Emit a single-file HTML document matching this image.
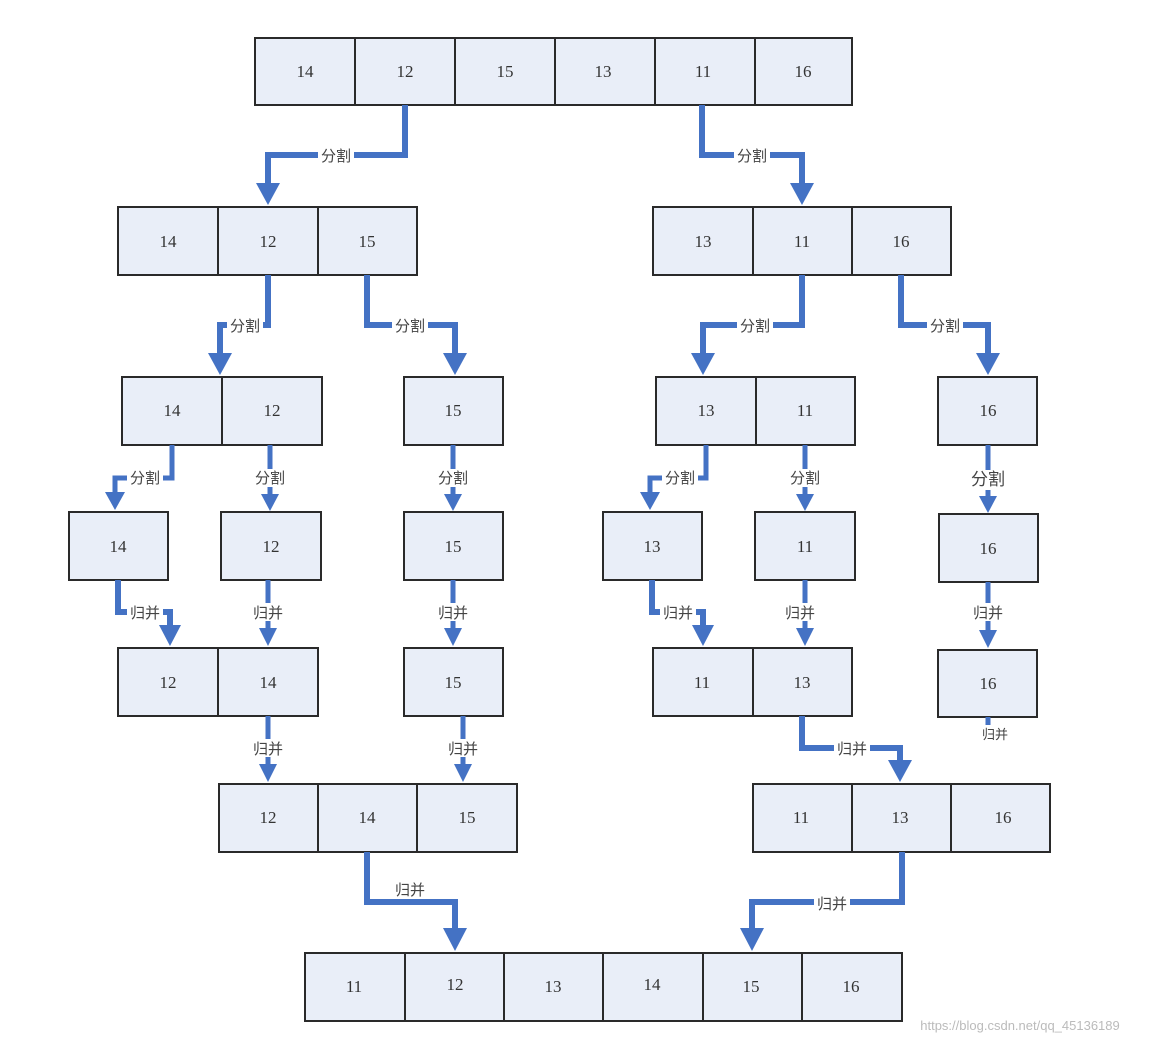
<!DOCTYPE html>
<html><head><meta charset="utf-8"><style>
body{margin:0;background:#fff}
svg{display:block}
.c{fill:#e9eef8;stroke:#2a2a2a;stroke-width:2}
.n{font-family:"Liberation Serif",serif;font-size:17px;fill:#333;text-anchor:middle}
.l{fill:none;stroke:#4472c4;stroke-width:6}
.s{fill:none;stroke:#4472c4;stroke-width:5}
.h{fill:#4472c4}
.t{font-family:"Liberation Sans","Noto Sans CJK SC",sans-serif;font-size:15px;fill:#444;text-anchor:middle}
.b{fill:#fff}
</style></head><body>
<svg width="1149" height="1044" viewBox="0 0 1149 1044">
<!-- row1 -->
<rect class="c" x="255" y="38" width="100" height="67"/><rect class="c" x="355" y="38" width="100" height="67"/><rect class="c" x="455" y="38" width="100" height="67"/><rect class="c" x="555" y="38" width="100" height="67"/><rect class="c" x="655" y="38" width="100" height="67"/><rect class="c" x="755" y="38" width="97" height="67"/>
<text class="n" x="305" y="77">14</text><text class="n" x="405" y="77">12</text><text class="n" x="505" y="77">15</text><text class="n" x="603" y="77">13</text><text class="n" x="703" y="77">11</text><text class="n" x="803" y="77">16</text>
<!-- row2 -->
<rect class="c" x="118" y="207" width="100" height="68"/><rect class="c" x="218" y="207" width="100" height="68"/><rect class="c" x="318" y="207" width="99" height="68"/>
<rect class="c" x="653" y="207" width="100" height="68"/><rect class="c" x="753" y="207" width="99" height="68"/><rect class="c" x="852" y="207" width="99" height="68"/>
<text class="n" x="168" y="247">14</text><text class="n" x="268" y="247">12</text><text class="n" x="367" y="247">15</text>
<text class="n" x="703" y="247">13</text><text class="n" x="802" y="247">11</text><text class="n" x="901" y="247">16</text>
<!-- row3 -->
<rect class="c" x="122" y="377" width="100" height="68"/><rect class="c" x="222" y="377" width="100" height="68"/><rect class="c" x="404" y="377" width="99" height="68"/>
<rect class="c" x="656" y="377" width="100" height="68"/><rect class="c" x="756" y="377" width="99" height="68"/><rect class="c" x="938" y="377" width="99" height="68"/>
<text class="n" x="172" y="416">14</text><text class="n" x="272" y="416">12</text><text class="n" x="453" y="416">15</text>
<text class="n" x="706" y="416">13</text><text class="n" x="805" y="416">11</text><text class="n" x="988" y="416">16</text>
<!-- row4 -->
<rect class="c" x="69" y="512" width="99" height="68"/><rect class="c" x="221" y="512" width="100" height="68"/><rect class="c" x="404" y="512" width="99" height="68"/>
<rect class="c" x="603" y="512" width="99" height="68"/><rect class="c" x="755" y="512" width="100" height="68"/><rect class="c" x="939" y="514" width="99" height="68"/>
<text class="n" x="118" y="552">14</text><text class="n" x="271" y="552">12</text><text class="n" x="453" y="552">15</text>
<text class="n" x="652" y="552">13</text><text class="n" x="805" y="552">11</text><text class="n" x="988" y="554">16</text>
<!-- row5 -->
<rect class="c" x="118" y="648" width="100" height="68"/><rect class="c" x="218" y="648" width="100" height="68"/><rect class="c" x="404" y="648" width="99" height="68"/>
<rect class="c" x="653" y="648" width="100" height="68"/><rect class="c" x="753" y="648" width="99" height="68"/><rect class="c" x="938" y="650" width="99" height="67"/>
<text class="n" x="168" y="688">12</text><text class="n" x="268" y="688">14</text><text class="n" x="453" y="688">15</text>
<text class="n" x="702" y="688">11</text><text class="n" x="802" y="688">13</text><text class="n" x="988" y="689">16</text>
<!-- row6 -->
<rect class="c" x="219" y="784" width="99" height="68"/><rect class="c" x="318" y="784" width="99" height="68"/><rect class="c" x="417" y="784" width="100" height="68"/>
<rect class="c" x="753" y="784" width="99" height="68"/><rect class="c" x="852" y="784" width="99" height="68"/><rect class="c" x="951" y="784" width="99" height="68"/>
<text class="n" x="268" y="823">12</text><text class="n" x="367" y="823">14</text><text class="n" x="467" y="823">15</text>
<text class="n" x="801" y="823">11</text><text class="n" x="900" y="823">13</text><text class="n" x="1003" y="823">16</text>
<!-- row7 -->
<rect class="c" x="305" y="953" width="100" height="68"/><rect class="c" x="405" y="953" width="99" height="68"/><rect class="c" x="504" y="953" width="99" height="68"/><rect class="c" x="603" y="953" width="100" height="68"/><rect class="c" x="703" y="953" width="99" height="68"/><rect class="c" x="802" y="953" width="100" height="68"/>
<text class="n" x="354" y="992">11</text><text class="n" x="455" y="990">12</text><text class="n" x="553" y="992">13</text><text class="n" x="652" y="990">14</text><text class="n" x="751" y="992">15</text><text class="n" x="851" y="992">16</text>

<!-- connectors level1 -->
<polyline class="l" points="405,105 405,155 268,155 268,185"/><polygon class="h" points="256,183 280,183 268,205"/>
<rect class="b" x="318" y="146" width="36" height="18"/><text class="t" x="336" y="161">分割</text>
<polyline class="l" points="702,105 702,155 802,155 802,185"/><polygon class="h" points="790,183 814,183 802,205"/>
<rect class="b" x="734" y="146" width="36" height="18"/><text class="t" x="752" y="161">分割</text>
<!-- level2 -->
<polyline class="l" points="268,275 268,325 220,325 220,355"/><polygon class="h" points="208,353 232,353 220,375"/>
<rect class="b" x="227" y="316" width="36" height="18"/><text class="t" x="245" y="331">分割</text>
<polyline class="l" points="367,275 367,325 455,325 455,355"/><polygon class="h" points="443,353 467,353 455,375"/>
<rect class="b" x="392" y="316" width="36" height="18"/><text class="t" x="410" y="331">分割</text>
<polyline class="l" points="802,275 802,325 703,325 703,355"/><polygon class="h" points="691,353 715,353 703,375"/>
<rect class="b" x="737" y="316" width="36" height="18"/><text class="t" x="755" y="331">分割</text>
<polyline class="l" points="901,275 901,325 988,325 988,355"/><polygon class="h" points="976,353 1000,353 988,375"/>
<rect class="b" x="927" y="316" width="36" height="18"/><text class="t" x="945" y="331">分割</text>
<!-- level3 -->
<polyline class="s" points="172,445 172,478 115,478 115,494"/><polygon class="h" points="105,492 125,492 115,510"/>
<rect class="b" x="127" y="469" width="36" height="18"/><text class="t" x="145" y="483">分割</text>
<polyline class="s" points="270,445 270,496"/><polygon class="h" points="261,494 279,494 270,511"/>
<rect class="b" x="252" y="469" width="36" height="18"/><text class="t" x="270" y="483">分割</text>
<polyline class="s" points="453,445 453,496"/><polygon class="h" points="444,494 462,494 453,511"/>
<rect class="b" x="435" y="469" width="36" height="18"/><text class="t" x="453" y="483">分割</text>
<polyline class="s" points="706,445 706,478 650,478 650,494"/><polygon class="h" points="640,492 660,492 650,510"/>
<rect class="b" x="662" y="469" width="36" height="18"/><text class="t" x="680" y="483">分割</text>
<polyline class="s" points="805,445 805,496"/><polygon class="h" points="796,494 814,494 805,511"/>
<rect class="b" x="787" y="469" width="36" height="18"/><text class="t" x="805" y="483">分割</text>
<polyline class="s" points="988,445 988,498"/><polygon class="h" points="979,496 997,496 988,513"/>
<rect class="b" x="966" y="470" width="44" height="20"/><text class="t" x="988" y="485" style="font-size:17px">分割</text>
<!-- level4 merge -->
<polyline class="l" points="118,580 118,612 170,612 170,627"/><polygon class="h" points="159,625 181,625 170,646"/>
<rect class="b" x="127" y="603" width="36" height="18"/><text class="t" x="145" y="618">归并</text>
<polyline class="s" points="268,580 268,630"/><polygon class="h" points="259,628 277,628 268,646"/>
<rect class="b" x="250" y="603" width="36" height="18"/><text class="t" x="268" y="618">归并</text>
<polyline class="s" points="453,580 453,630"/><polygon class="h" points="444,628 462,628 453,646"/>
<rect class="b" x="435" y="603" width="36" height="18"/><text class="t" x="453" y="618">归并</text>
<polyline class="l" points="652,580 652,612 703,612 703,627"/><polygon class="h" points="692,625 714,625 703,646"/>
<rect class="b" x="660" y="603" width="36" height="18"/><text class="t" x="678" y="618">归并</text>
<polyline class="s" points="805,580 805,630"/><polygon class="h" points="796,628 814,628 805,646"/>
<rect class="b" x="782" y="603" width="36" height="18"/><text class="t" x="800" y="618">归并</text>
<polyline class="s" points="988,582 988,632"/><polygon class="h" points="979,630 997,630 988,648"/>
<rect class="b" x="970" y="603" width="36" height="18"/><text class="t" x="988" y="618">归并</text>
<!-- level5 merge -->
<polyline class="s" points="268,716 268,766"/><polygon class="h" points="259,764 277,764 268,782"/>
<rect class="b" x="250" y="739" width="36" height="18"/><text class="t" x="268" y="754">归并</text>
<polyline class="s" points="463,716 463,766"/><polygon class="h" points="454,764 472,764 463,782"/>
<rect class="b" x="445" y="739" width="36" height="18"/><text class="t" x="463" y="754">归并</text>
<polyline class="l" points="802,716 802,748 900,748 900,762"/><polygon class="h" points="888,760 912,760 900,782"/>
<rect class="b" x="834" y="739" width="36" height="18"/><text class="t" x="852" y="754">归并</text>
<polyline class="s" points="988,717 988,725"/>
<text class="t" x="995" y="739" style="font-size:13px">归并</text>
<!-- level6 merge -->
<polyline class="l" points="367,852 367,902 455,902 455,930"/><polygon class="h" points="443,928 467,928 455,951"/>
<rect class="b" x="392" y="881" width="36" height="18"/><text class="t" x="410" y="895">归并</text>
<polyline class="l" points="902,852 902,902 752,902 752,930"/><polygon class="h" points="740,928 764,928 752,951"/>
<rect class="b" x="814" y="894" width="36" height="18"/><text class="t" x="832" y="909">归并</text>
<text x="1020" y="1030" style="font-family:'Liberation Sans',sans-serif;font-size:13px;fill:#bbb;text-anchor:middle">https://blog.csdn.net/qq_45136189</text>
</svg>
</body></html>
